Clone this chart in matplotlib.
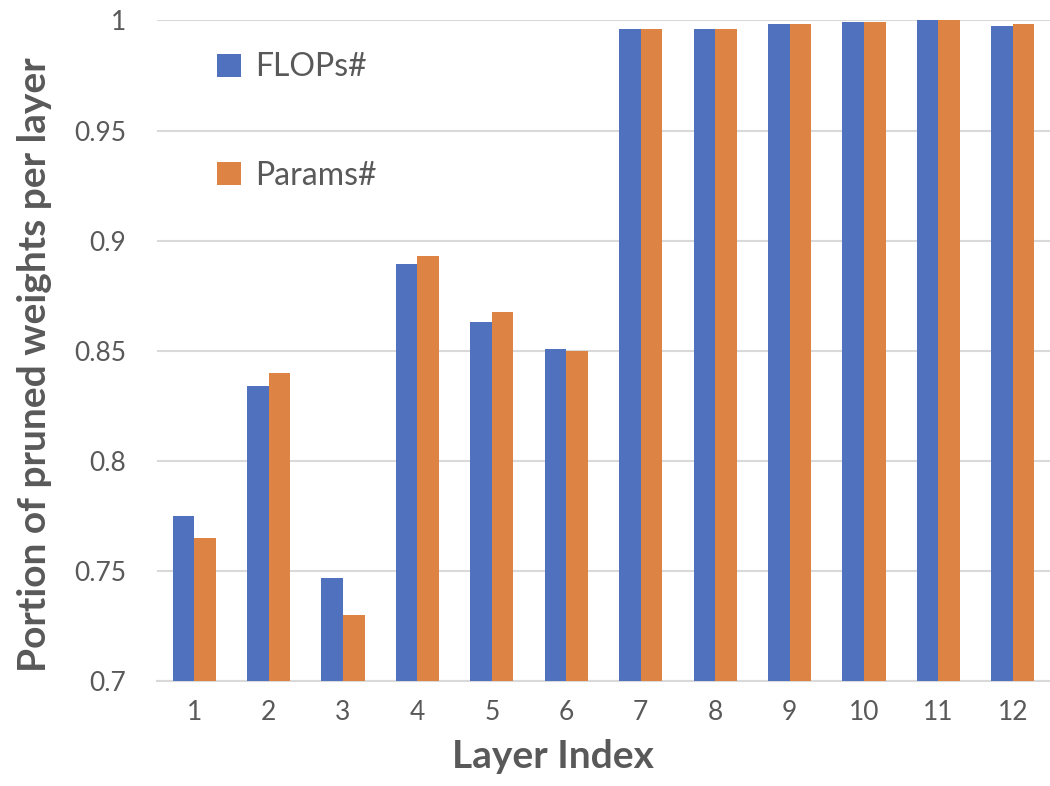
import numpy as np
import matplotlib.pyplot as plt

# valeurs
layers = [1, 2, 3, 4, 5, 6, 7, 8, 9, 10, 11, 12]
flops = [0.775, 0.834, 0.747, 0.8895, 0.863, 0.851, 0.996, 0.996, 0.9986, 0.9995, 1.0, 0.9977]
params = [0.765, 0.840, 0.730, 0.893, 0.8677, 0.850, 0.996, 0.996, 0.9986, 0.9995, 1.0, 0.9986]
yticks = [0.7, 0.75, 0.8, 0.85, 0.9, 0.95, 1.0]
ytick_labels = ["0.7", "0.75", "0.8", "0.85", "0.9", "0.95", "1"]

gris = '#595959'
bleu = '#5071BE'
orange = '#DD8444'

plt.rcParams['font.family'] = ['Lato', 'DejaVu Sans']

fig = plt.figure(figsize=(10.5, 7.86), dpi=100)
ax = fig.add_axes([0.1495, 0.1336, 0.8505, 0.8404])

x = np.array(layers)
largeur = 0.29
ax.bar(x - largeur / 2, flops, largeur, color=bleu, label="FLOPs#", zorder=3)
ax.bar(x + largeur / 2, params, largeur, color=orange, label="Params#", zorder=3)

ax.set_xlim(0.5, 12.5)
ax.set_ylim(0.7, 1.0)
ax.set_yticks(yticks)
ax.set_yticklabels(ytick_labels)
ax.set_xticks(x)
ax.set_xticklabels([str(l) for l in layers])
ax.tick_params(axis='both', length=0, labelsize=19, colors=gris)
ax.tick_params(axis='y', pad=22)
ax.tick_params(axis='x', pad=14)

ax.grid(axis='y', color='#d9d9d9', linewidth=1.5, zorder=0)
for s in ['top', 'right', 'left']:
    ax.spines[s].set_visible(False)
ax.spines['bottom'].set_color('#d9d9d9')
ax.spines['bottom'].set_linewidth(1.5)

fig.text(553 / 1050, 1 - 757 / 786, "Layer Index", fontsize=28, fontweight='bold',
         color=gris, ha='center', va='center')
fig.text(35 / 1050, 1 - 365 / 786, "Portion of pruned weights per layer", fontsize=28,
         fontweight='bold', color=gris, ha='center', va='center', rotation=90)

leg = ax.legend(loc='upper left', bbox_to_anchor=(0.035, 0.995), frameon=False,
                fontsize=23, labelcolor=gris, handlelength=0.75, handleheight=0.75,
                handletextpad=0.45, labelspacing=2.45)

fig.savefig("out.png", dpi=100)
